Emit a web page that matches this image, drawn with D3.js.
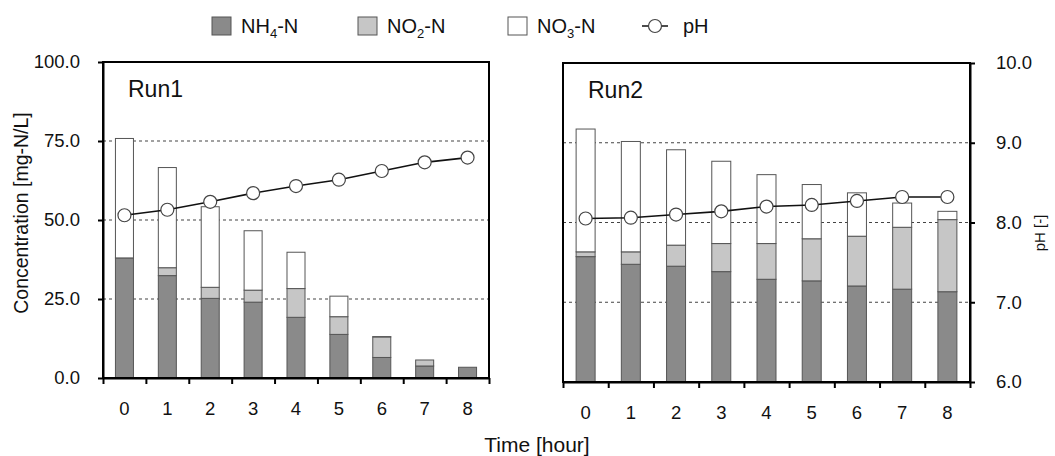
<!DOCTYPE html>
<html>
<head>
<meta charset="utf-8">
<script src="https://cdn.jsdelivr.net/npm/d3@7"></script>
<style>
  body { margin: 0; background: #fff; }
  text { font-family: "Liberation Sans", Arial, sans-serif; fill: #111; }
</style>
</head>
<body>
<script>
// values
const hours = [0, 1, 2, 3, 4, 5, 6, 7, 8];
const seriesKeys = ['NH4', 'NO2', 'NO3'];

const run1NH4 = [38.0, 32.4, 25.2, 24.0, 19.2, 13.8, 6.5, 3.8, 3.4];
const run1NO2 = [0.0, 2.5, 3.5, 3.8, 9.1, 5.6, 6.5, 1.9, 0.0];
const run1NO3 = [37.8, 31.7, 25.5, 18.8, 11.5, 6.5, 0.1, 0.0, 0.0];
const run1pH = [8.06, 8.13, 8.23, 8.34, 8.43, 8.51, 8.62, 8.73, 8.79];

const run2NH4 = [39.3, 36.9, 36.3, 34.6, 32.2, 31.7, 30.1, 29.1, 28.3];
const run2NO2 = [1.5, 3.9, 6.6, 8.8, 11.2, 13.2, 15.6, 19.4, 22.6];
const run2NO3 = [38.5, 34.6, 29.9, 25.8, 21.6, 17.0, 13.6, 7.6, 2.6];
const run2pH = [8.05, 8.06, 8.10, 8.14, 8.20, 8.22, 8.27, 8.32, 8.32];

const concTicks = [0, 25, 50, 75, 100];
const pHTicks = [6, 7, 8, 9, 10];

const fills = { NH4: '#8a8a8a', NO2: '#c6c6c6', NO3: '#ffffff' };
const tickFont = '18.5px';

const width = 1055, height = 456;
const svg = d3.select('body').append('svg')
  .attr('width', width)
  .attr('height', height);

// build rows for stacking
function rows(nh4, no2, no3, ph) {
  return hours.map((h, i) => ({ hour: h, NH4: nh4[i], NO2: no2[i], NO3: no3[i], pH: ph[i] }));
}
const run1 = rows(run1NH4, run1NO2, run1NO3, run1pH);
const run2 = rows(run2NH4, run2NO2, run2NO3, run2pH);

const stack = d3.stack().keys(seriesKeys);

function drawPanel(data, box, name, side) {
  const x = d3.scaleBand().domain(hours).range([box.left, box.right]);
  const xEdge = d3.scaleLinear().domain([0, hours.length]).range([box.left, box.right]);
  const y = d3.scaleLinear().domain([0, 100]).range([box.bottom, box.top]);
  const yPH = d3.scaleLinear().domain([6, 10]).range([box.bottom, box.top]);
  const g = svg.append('g');

  // dotted grid lines
  g.selectAll('.grid')
    .data([25, 50, 75])
    .enter()
    .append('line')
    .attr('x1', box.left).attr('x2', box.right)
    .attr('y1', d => y(d)).attr('y2', d => y(d))
    .attr('stroke', '#444')
    .attr('stroke-width', 1.2)
    .attr('stroke-dasharray', '3,3');

  // stacked bars
  const barW = x.bandwidth() * 0.42;
  const layers = g.selectAll('.layer')
    .data(stack(data))
    .enter()
    .append('g')
    .attr('fill', d => fills[d.key]);

  layers.selectAll('rect')
    .data(d => d.filter(p => p[1] - p[0] > 0.05))
    .enter()
    .append('rect')
    .attr('x', d => x(d.data.hour) + (x.bandwidth() - barW) / 2)
    .attr('y', d => y(d[1]))
    .attr('width', barW)
    .attr('height', d => y(d[0]) - y(d[1]))
    .attr('stroke', '#555')
    .attr('stroke-width', 1);

  // frame
  g.append('rect')
    .attr('x', box.left).attr('y', box.top)
    .attr('width', box.right - box.left)
    .attr('height', box.bottom - box.top)
    .attr('fill', 'none')
    .attr('stroke', '#000')
    .attr('stroke-width', 2);

  // x axis: ticks at band edges, labels at centers
  g.append('g')
    .attr('transform', `translate(0,${box.bottom})`)
    .call(d3.axisBottom(xEdge).tickValues(d3.range(hours.length + 1)).tickSize(6).tickSizeOuter(0).tickFormat(''))
    .call(a => a.select('.domain').attr('stroke-width', 2))
    .call(a => a.selectAll('line').attr('stroke-width', 2));

  g.append('g')
    .attr('transform', `translate(0,${box.bottom})`)
    .call(d3.axisBottom(x).tickSize(0).tickPadding(24))
    .call(a => a.select('.domain').remove())
    .selectAll('text')
    .style('font-size', tickFont)
    .attr('fill', '#111');

  if (side === 'left') {
    g.append('g')
      .attr('transform', `translate(${box.left},0)`)
      .call(d3.axisLeft(y).tickValues(concTicks).tickFormat(d3.format('.1f')).tickSize(5).tickSizeOuter(0).tickPadding(18))
      .call(a => a.select('.domain').attr('stroke-width', 2))
      .call(a => a.selectAll('line').attr('stroke-width', 2))
      .selectAll('text')
      .style('font-size', tickFont)
      .attr('fill', '#111');
  } else {
    g.append('g')
      .attr('transform', `translate(${box.right},0)`)
      .call(d3.axisRight(yPH).tickValues(pHTicks).tickFormat(d3.format('.1f')).tickSize(5).tickSizeOuter(0).tickPadding(21))
      .call(a => a.select('.domain').attr('stroke-width', 2))
      .call(a => a.selectAll('line').attr('stroke-width', 2))
      .selectAll('text')
      .style('font-size', tickFont)
      .attr('fill', '#111');
  }

  // pH line
  const line = d3.line()
    .x(d => x(d.hour) + x.bandwidth() / 2)
    .y(d => yPH(d.pH));
  g.append('path')
    .datum(data)
    .attr('d', line)
    .attr('fill', 'none')
    .attr('stroke', '#111')
    .attr('stroke-width', 1.6);

  g.selectAll('.pt')
    .data(data)
    .enter()
    .append('circle')
    .attr('cx', d => x(d.hour) + x.bandwidth() / 2)
    .attr('cy', d => yPH(d.pH))
    .attr('r', 6.5)
    .attr('fill', '#fff')
    .attr('stroke', '#444')
    .attr('stroke-width', 1.2);

  g.append('text')
    .attr('x', box.left + 25)
    .attr('y', box.top + 35)
    .style('font-size', '23px')
    .text(name);
}

drawPanel(run1, { left: 103, right: 489, top: 62, bottom: 378 }, 'Run1', 'left');
drawPanel(run2, { left: 563, right: 970, top: 63, bottom: 382 }, 'Run2', 'right');

// axis titles
svg.append('text')
  .attr('transform', 'translate(28,213) rotate(-90)')
  .attr('text-anchor', 'middle')
  .style('font-size', '19.5px')
  .text('Concentration [mg-N/L]');

svg.append('text')
  .attr('x', 537)
  .attr('y', 452)
  .attr('text-anchor', 'middle')
  .style('font-size', '21px')
  .text('Time [hour]');

svg.append('text')
  .attr('transform', 'translate(1045,233) rotate(-90)')
  .attr('text-anchor', 'middle')
  .style('font-size', '15px')
  .text('pH [-]');

// legend
const legendItems = [
  { key: 'NH4', x: 212, base: 'NH', sub: '4', tail: '-N' },
  { key: 'NO2', x: 358, base: 'NO', sub: '2', tail: '-N' },
  { key: 'NO3', x: 508, base: 'NO', sub: '3', tail: '-N' }
];
const legend = svg.append('g');
legendItems.forEach(d => {
  legend.append('rect')
    .attr('x', d.x).attr('y', 17)
    .attr('width', 19).attr('height', 18)
    .attr('fill', fills[d.key])
    .attr('stroke', '#555')
    .attr('stroke-width', 1);
  const t = legend.append('text')
    .attr('x', d.x + 29)
    .attr('y', 33)
    .style('font-size', '20px');
  t.append('tspan').text(d.base);
  t.append('tspan').attr('dy', 5).style('font-size', '13px').text(d.sub);
  t.append('tspan').attr('dy', -5).text(d.tail);
});
legend.append('line')
  .attr('x1', 642).attr('x2', 668)
  .attr('y1', 26).attr('y2', 26)
  .attr('stroke', '#111')
  .attr('stroke-width', 1.5);
legend.append('circle')
  .attr('cx', 655).attr('cy', 26).attr('r', 6.5)
  .attr('fill', '#fff')
  .attr('stroke', '#444')
  .attr('stroke-width', 1.2);
legend.append('text')
  .attr('x', 683).attr('y', 33)
  .style('font-size', '20px')
  .text('pH');
</script>
</body>
</html>
